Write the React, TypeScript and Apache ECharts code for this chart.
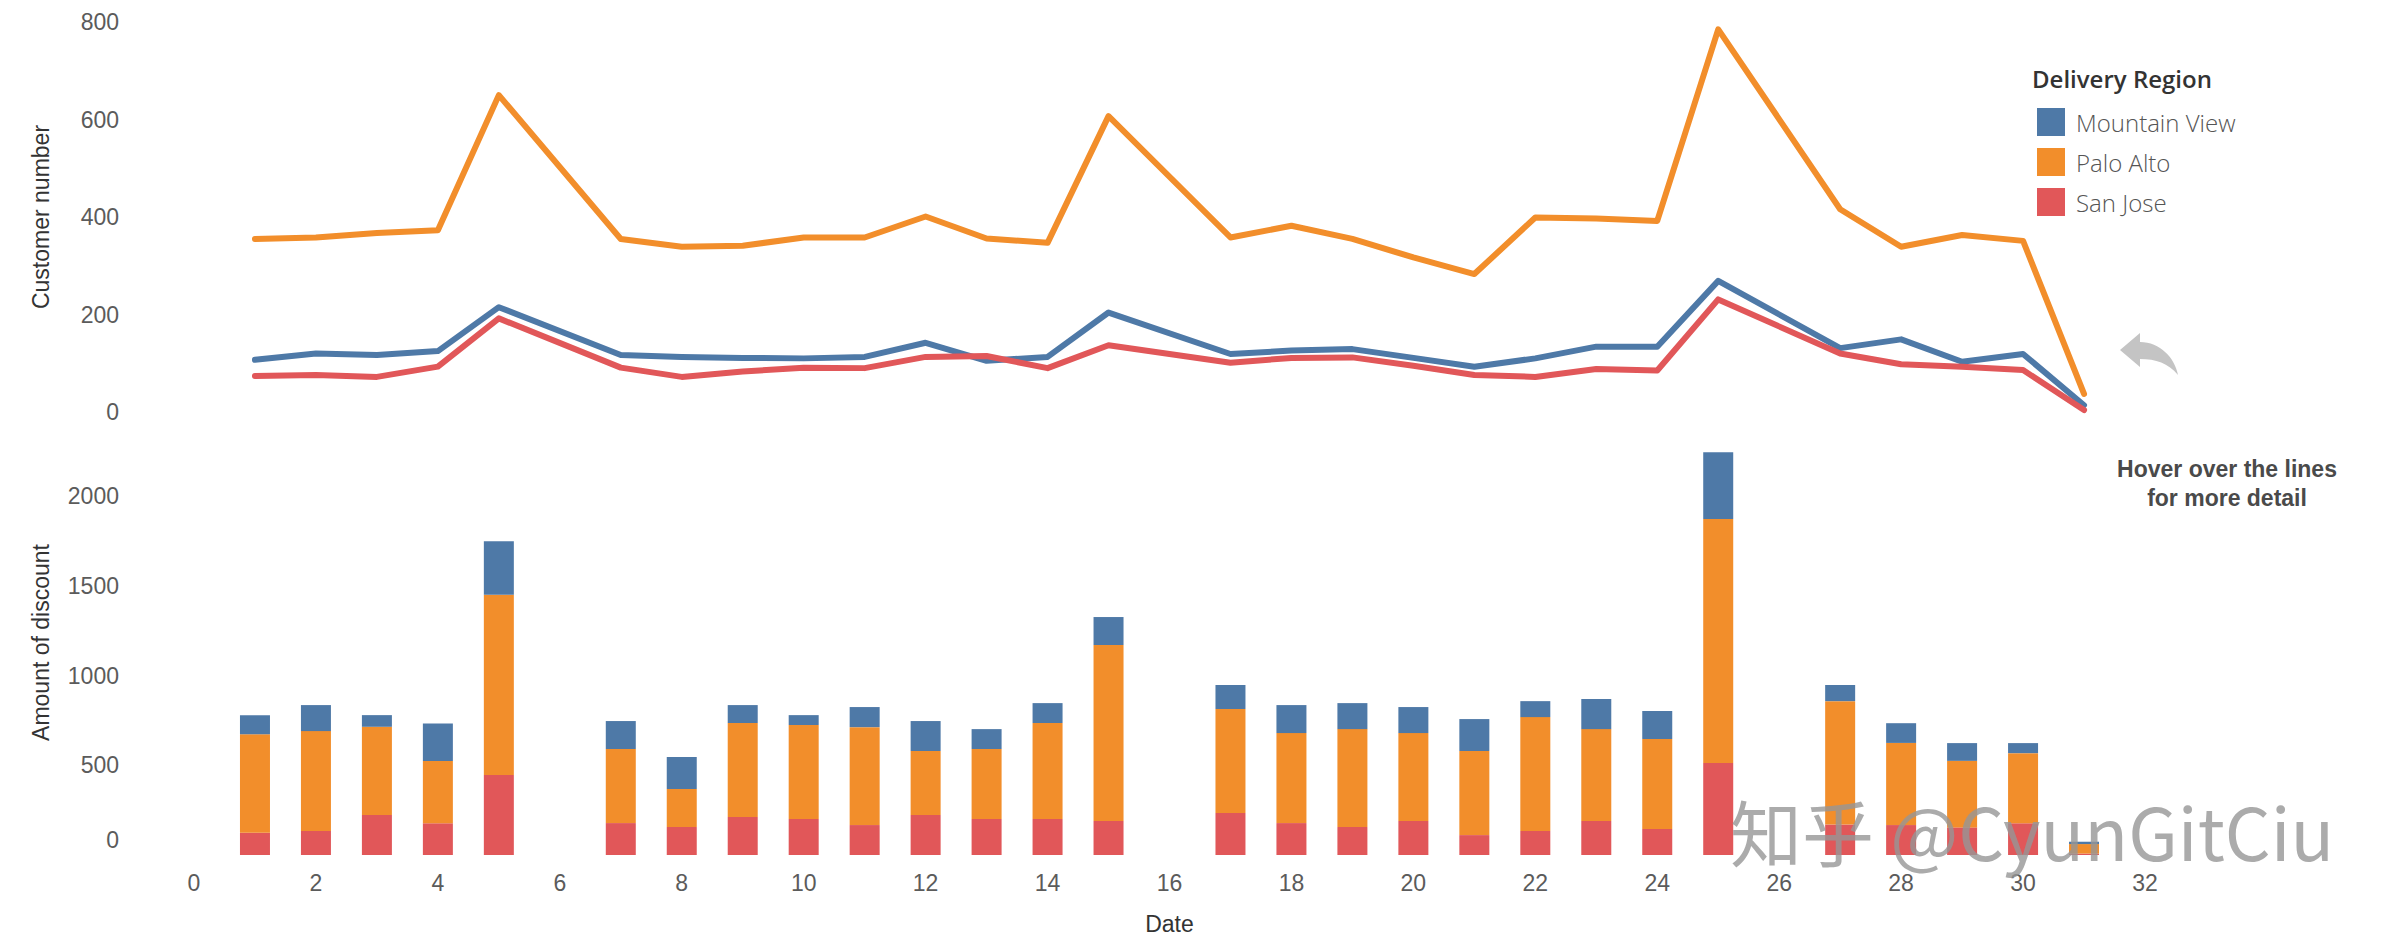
import React, { useEffect, useRef } from 'react';
import * as echarts from 'echarts';

const dateCategories = [0, 1, 2, 3, 4, 5, 6, 7, 8, 9, 10, 11, 12, 13, 14, 15, 16, 17, 18, 19, 20, 21, 22, 23, 24, 25, 26, 27, 28, 29, 30, 31, 32];
const days = [1, 2, 3, 4, 5, 7, 8, 9, 10, 11, 12, 13, 14, 15, 17, 18, 19, 20, 21, 22, 23, 24, 25, 27, 28, 29, 30, 31];
const customersMountainView = [107, 120, 117, 125, 215, 117, 113, 111, 110, 113, 142, 105, 113, 204, 119, 126, 129, 111, 93, 110, 134, 134, 269, 131, 149, 103, 119, 14];
const customersPaloAlto = [355, 358, 367, 373, 650, 355, 339, 341, 358, 358, 401, 356, 347, 607, 358, 382, 355, 317, 283, 399, 397, 392, 785, 416, 339, 363, 351, 37];
const customersSanJose = [74, 76, 72, 93, 192, 91, 72, 83, 91, 90, 113, 115, 90, 137, 101, 111, 112, 95, 76, 72, 88, 85, 231, 120, 98, 93, 86, 4];
const discountMountainView = [107, 145, 65, 210, 299, 156, 178, 100, 55, 112, 167, 111, 111, 156, 134, 156, 145, 145, 178, 89, 168, 156, 373, 90, 110, 99, 56, 13];
const discountPaloAlto = [549, 557, 492, 347, 1005, 413, 212, 524, 524, 546, 357, 390, 535, 981, 580, 502, 546, 490, 469, 635, 512, 502, 1360, 688, 458, 371, 391, 53];
const discountSanJose = [124, 134, 223, 177, 446, 178, 156, 212, 201, 167, 223, 201, 201, 190, 234, 178, 156, 190, 111, 134, 190, 145, 513, 170, 167, 154, 177, 8];

const regions = ['Mountain View', 'Palo Alto', 'San Jose'];
const regionColors = ['#4e79a7', '#f28e2b', '#e15759'];
const customerTickStep = 200;
const discountTickStep = 500;

echarts.graphic.registerShape(
  'hoverArrow',
  echarts.graphic.extendPath('M0,17 L20,0 L20,9 C40,9 55,25 58,42 C48,30 36,26 20,26 L20,34 Z', {})
);

// place each day's value on the full category list; days without data stay empty
const onDates = (vals: number[]) =>
  dateCategories.map((c) => {
    const i = days.indexOf(c);
    return i >= 0 ? vals[i] : null;
  });

const axisFont = 'Liberation Sans, Arial, sans-serif';
const labelColor = '#5b5b5b';
const titleColor = '#333333';

export default function App() {
  const ref = useRef<HTMLDivElement>(null);
  useEffect(() => {
    if (!ref.current) return;
    const chart = echarts.init(ref.current, null, { renderer: 'svg' });
    const lineData = [customersMountainView, customersPaloAlto, customersSanJose];
    const barData = [discountSanJose, discountPaloAlto, discountMountainView];
    const barNames = ['San Jose', 'Palo Alto', 'Mountain View'];
    const barColors = ['#e15759', '#f28e2b', '#4e79a7'];
    const cats = dateCategories.map(String);
    chart.setOption({
      animation: false,
      backgroundColor: '#ffffff',
      grid: [
        { left: 194, right: 249, top: 22, height: 390 },
        { left: 194, right: 249, top: 430, height: 425 },
      ],
      xAxis: [
        { type: 'category', gridIndex: 0, data: cats, boundaryGap: false, show: false },
        {
          type: 'category', gridIndex: 1, data: cats, boundaryGap: false,
          name: 'Date', nameLocation: 'middle', nameGap: 57,
          nameTextStyle: { fontFamily: axisFont, fontSize: 23, color: titleColor },
          axisLine: { show: false }, axisTick: { show: false }, splitLine: { show: false },
          axisLabel: { fontFamily: axisFont, fontSize: 23, color: labelColor, margin: 16, interval: 1 },
        },
      ],
      yAxis: [
        {
          type: 'value', gridIndex: 0, min: 0, max: 800, interval: customerTickStep,
          name: 'Customer number', nameLocation: 'middle', nameGap: 142,
          nameTextStyle: { fontFamily: axisFont, fontSize: 23, color: titleColor },
          axisLine: { show: false }, axisTick: { show: false }, splitLine: { show: false },
          axisLabel: { fontFamily: axisFont, fontSize: 23, color: labelColor, margin: 75 },
        },
        {
          type: 'value', gridIndex: 1, min: 0, max: 2370, interval: discountTickStep,
          name: 'Amount of discount', nameLocation: 'middle', nameGap: 142,
          nameTextStyle: { fontFamily: axisFont, fontSize: 23, color: titleColor },
          axisLine: { show: false }, axisTick: { show: false }, splitLine: { show: false },
          axisLabel: {
            fontFamily: axisFont, fontSize: 23, color: labelColor, margin: 75,
            formatter: (v: number) => (v === 0 ? '{z|0}' : v % discountTickStep === 0 ? String(v) : ''),
            rich: { z: { fontFamily: axisFont, fontSize: 23, color: labelColor, padding: [0, 0, 30, 0] } },
          },
        },
      ],
      legend: {
        data: regions,
        orient: 'vertical',
        left: 2037,
        top: 108,
        padding: 0,
        icon: 'rect',
        itemWidth: 28,
        itemHeight: 28,
        itemGap: 12,
        selectedMode: false,
        itemStyle: { borderWidth: 0 },
        textStyle: { fontFamily: 'Open Sans', fontSize: 24, fontWeight: 300, color: '#555555', padding: [0, 0, 0, 6] },
      },
      graphic: [
        {
          type: 'text', left: 2032, top: 66, z: 10,
          style: { text: 'Delivery Region', fontFamily: 'Open Sans', fontSize: 24, fontWeight: 600, fill: '#333333' },
        },
        {
          type: 'hoverArrow', x: 2120, y: 333, z: 10,
          style: { fill: '#c4c4c4' },
        },
        {
          type: 'text', x: 2227, y: 483, z: 10,
          style: {
            text: 'Hover over the lines\nfor more detail', fontFamily: axisFont, fontSize: 23, fontWeight: 'bold',
            fill: '#4a4a4a', align: 'center', verticalAlign: 'middle', lineHeight: 29,
          },
        },
        {
          type: 'text', x: 1730, y: 829, z: 100,
          style: {
            text: '知乎 @CyunGitCiu', fontFamily: 'Noto Sans CJK SC', fontSize: 72, lineHeight: 60,
            fill: 'rgba(150,150,150,0.8)', verticalAlign: 'middle',
            textShadowColor: 'rgba(255,255,255,0.95)', textShadowOffsetX: -3, textShadowOffsetY: -3, textShadowBlur: 0,
          },
        },
      ],
      series: [
        ...regions.map((name, i) => ({
          type: 'line', name, xAxisIndex: 0, yAxisIndex: 0,
          data: onDates(lineData[i]), connectNulls: true, showSymbol: false, symbol: 'none',
          color: regionColors[i],
          itemStyle: { color: regionColors[i] },
          lineStyle: { width: 6, color: regionColors[i], join: 'round', cap: 'round' },
        })),
        ...barNames.map((name, i) => ({
          type: 'bar', name, xAxisIndex: 1, yAxisIndex: 1, stack: 'discount',
          data: onDates(barData[i]), barWidth: 30, color: barColors[i],
          itemStyle: { color: barColors[i] },
        })),
      ],
    });
    return () => chart.dispose();
  }, []);
  return <div ref={ref} style={{ position: 'absolute', left: 0, top: 0, width: 2394, height: 940 }} />;
}
